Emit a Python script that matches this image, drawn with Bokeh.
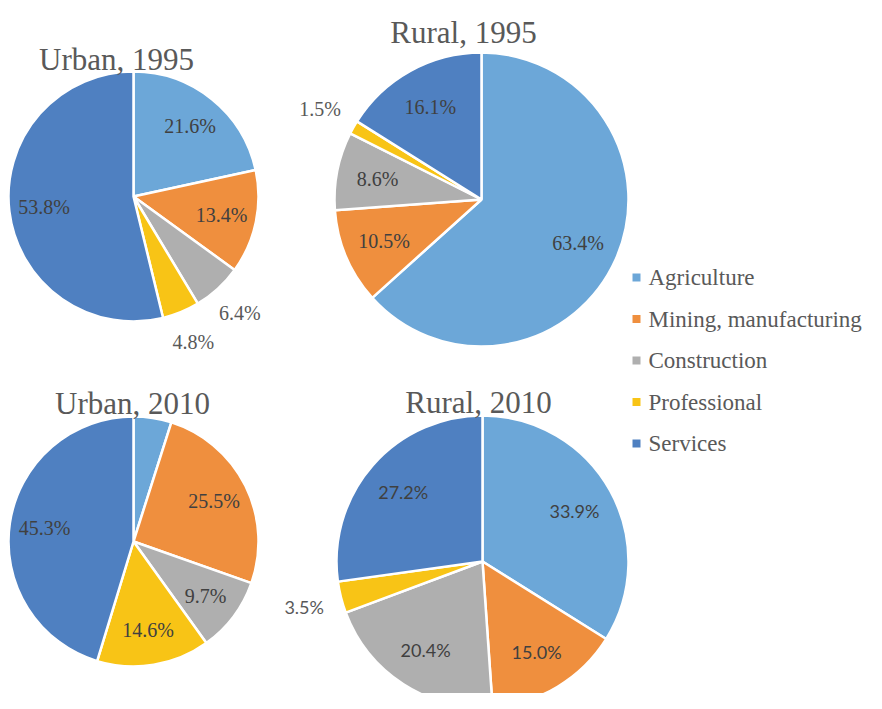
import math
from bokeh.plotting import figure
from bokeh.models import Range1d, ColumnDataSource
from bokeh.core.properties import value
from bokeh.embed import file_html
from bokeh.resources import INLINE

# ---------------- data ----------------
categories = ["Agriculture", "Mining, manufacturing", "Construction", "Professional", "Services"]
urban_1995 = [21.6, 13.4, 6.4, 4.8, 53.8]
rural_1995 = [63.4, 10.5, 8.6, 1.5, 16.1]
urban_2010 = [4.9, 25.5, 9.7, 14.6, 45.3]
rural_2010 = [33.9, 15.0, 20.4, 3.5, 27.2]
urban_2010_shown = [False, True, True, True, True]
titles = ["Urban, 1995", "Rural, 1995", "Urban, 2010", "Rural, 2010"]

# ---------------- style / layout ----------------
colors = ["#6CA7D8", "#EF8F3E", "#AFAFAF", "#F8C416", "#4F80C1"]
W, H = 866, 693
SERIF = "Liberation Serif"
SANS = "Lato"

def img(x, y):
    # convert reference-image pixel coordinates to plot coordinates
    return x, H - y

pies = [
    dict(vals=urban_1995, shown=[True] * 5, c=img(133, 196), r=125, title=titles[0],
         tpos=img(116, 59), font=SERIF, fsize="20px"),
    dict(vals=rural_1995, shown=[True] * 5, c=img(481, 199), r=147, title=titles[1],
         tpos=img(463, 32), font=SERIF, fsize="20px"),
    dict(vals=urban_2010, shown=urban_2010_shown, c=img(133, 541), r=125, title=titles[2],
         tpos=img(132, 403), font=SERIF, fsize="20px"),
    dict(vals=rural_2010, shown=[True] * 5, c=img(482, 561), r=146, title=titles[3],
         tpos=img(478, 402), font=SANS, fsize="18px"),
]

p = figure(width=W, height=H, x_range=Range1d(0, W), y_range=Range1d(0, H),
           output_backend="svg", toolbar_location=None, min_border=0)
p.axis.visible = False
p.grid.visible = False
p.outline_line_color = None
p.background_fill_color = "white"
p.border_fill_color = "white"

for pie in pies:
    vals = pie["vals"]
    total = sum(vals)
    cx, cy = pie["c"]
    r = pie["r"]
    starts, ends = [], []
    lx, ly, lt, lc = [], [], [], []
    cum = 0.0
    for i, v in enumerate(vals):
        a0 = math.pi / 2 - 2 * math.pi * cum / total
        a1 = math.pi / 2 - 2 * math.pi * (cum + v) / total
        starts.append(a0)
        ends.append(a1)
        mid = math.pi / 2 - 2 * math.pi * (cum + v / 2) / total
        cum += v
        if pie["shown"][i]:
            inside = v >= 8
            f = 0.72 if inside else 1.26
            lx.append(cx + f * r * math.cos(mid))
            ly.append(cy + f * r * math.sin(mid))
            lt.append(f"{v:.1f}%")
            lc.append("#404040" if inside else "#595959")
    src = ColumnDataSource(dict(x=[cx] * len(vals), y=[cy] * len(vals),
                                start=starts, end=ends, color=colors))
    p.wedge(x="x", y="y", radius=r, radius_units="screen", start_angle="start",
            end_angle="end", direction="clock", fill_color="color",
            line_color="white", line_width=2.5, source=src)
    lsrc = ColumnDataSource(dict(x=lx, y=ly, text=lt, color=lc))
    p.text(x="x", y="y", text="text", text_color="color", source=lsrc,
           text_align="center", text_baseline="middle",
           text_font=value(pie["font"]), text_font_size=pie["fsize"])
    tx, ty = pie["tpos"]
    p.text(x=[tx], y=[ty], text=[pie["title"]], text_align="center",
           text_baseline="alphabetic", text_font=value(SERIF),
           text_font_size="31px", text_color="#595959")

# legend
lgx, lgy0 = img(636, 277)
step = 41.5
leg_y = [lgy0 - i * step for i in range(len(categories))]
p.scatter(x=[lgx] * len(categories), y=leg_y, marker="square", size=8,
          fill_color=colors, line_color=None)
p.text(x=[lgx + 12] * len(categories), y=leg_y, text=categories,
       text_align="left", text_baseline="middle", text_font=value(SERIF),
       text_font_size="23px", text_color="#595959")

open("out.html", "w").write(file_html(p, INLINE))
